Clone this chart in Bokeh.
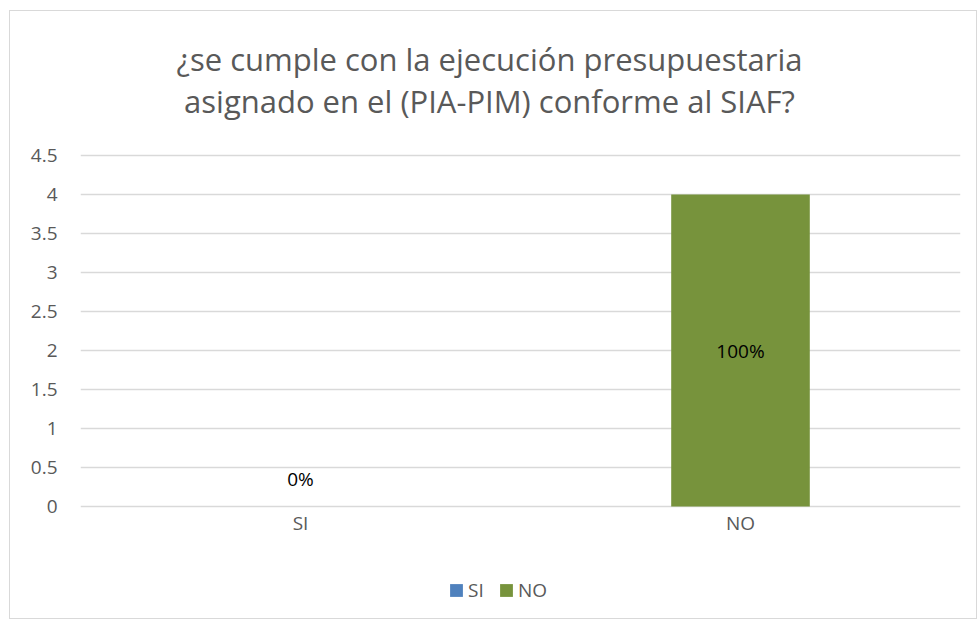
import numpy as np
from bokeh.plotting import figure
from bokeh.models import Legend, LegendItem, ColumnDataSource, FixedTicker, Range1d
from bokeh.core.properties import value
from bokeh.embed import file_html
from bokeh.resources import INLINE

# ---- data ----
categories = ["SI", "NO"]
series_names = ["SI", "NO"]
counts = [0, 4]
percent_labels = ["0%", "100%"]
colors = ["#4f81bd", "#77933c"]
title_lines = ["¿se cumple con la ejecución presupuestaria",
               "asignado en el (PIA-PIM) conforme al SIAF?"]
y_max = 4.5
y_step = 0.5

# ---- layout constants (pixels) ----
FONT = "Open Sans"
GREY = "#595959"
FRAME_H = 607          # frame spans whole chart height (titles/legend drawn inside)
AXIS_PX = 351          # pixel height of the 0..y_max value axis
ZERO_FROM_TOP = 495    # pixel distance from frame top to value 0
px_per_unit = AXIS_PX / y_max
y_end = ZERO_FROM_TOP / px_per_unit
y_start = -(FRAME_H - ZERO_FROM_TOP) / px_per_unit

p = figure(x_range=categories, y_range=Range1d(y_start, y_end),
           frame_width=880, frame_height=FRAME_H,
           output_backend="svg", toolbar_location=None,
           min_border_left=70, min_border_right=16, min_border_top=0,
           min_border_bottom=0)
p.styles = {"border": "1px solid #d9d9d9", "margin-left": "9px", "margin-top": "10px"}
p.outline_line_color = None
p.background_fill_color = "white"
p.border_fill_color = "white"
p.title = None

# bars
renderers = []
for cat, name, v, c in zip(categories, series_names, counts, colors):
    src = ColumnDataSource(dict(x=[cat], top=[v]))
    r = p.vbar(x="x", top="top", width=0.315, source=src, fill_color=c, line_color=None)
    renderers.append((name, r))

# chart title (two centred lines above the value area)
for line, off in zip(title_lines, [-97, -55]):
    s = ColumnDataSource(dict(x=[1], y=[y_max], t=[line]))
    p.text(x="x", y="y", text="t", source=s, text_align="center", text_baseline="middle",
           x_offset=-31, y_offset=off, text_font=value(FONT), text_font_size="31px",
           text_color=GREY)

# data labels
lab_src_mid = ColumnDataSource(dict(
    x=[c for c, v in zip(categories, counts) if v > 0],
    y=[v / 2 for v in counts if v > 0],
    t=[l for l, v in zip(percent_labels, counts) if v > 0]))
p.text(x="x", y="y", text="t", source=lab_src_mid, text_align="center",
       text_baseline="middle", text_font=value(FONT), text_font_size="19px",
       text_color="#000000")
lab_src_zero = ColumnDataSource(dict(
    x=[c for c, v in zip(categories, counts) if v == 0],
    y=[v for v in counts if v == 0],
    t=[l for l, v in zip(percent_labels, counts) if v == 0]))
p.text(x="x", y="y", text="t", source=lab_src_zero, text_align="center",
       text_baseline="middle", y_offset=-28, text_font=value(FONT), text_font_size="19px",
       text_color="#000000")

# category labels under the value area
cat_src = ColumnDataSource(dict(x=categories, y=[0] * len(categories), t=categories))
p.text(x="x", y="y", text="t", source=cat_src, text_align="center", text_baseline="middle",
       y_offset=16, text_font=value(FONT), text_font_size="19px", text_color=GREY)

# axes
ticks = list(np.round(np.arange(0, y_max + y_step / 2, y_step), 2))
p.yaxis.ticker = FixedTicker(ticks=ticks)
p.ygrid.ticker = FixedTicker(ticks=ticks)
p.yaxis.axis_line_color = None
p.yaxis.major_tick_line_color = None
p.yaxis.minor_tick_line_color = None
p.yaxis.major_tick_out = 0
p.yaxis.major_tick_in = 0
p.yaxis.minor_tick_out = 0
p.yaxis.major_label_text_font = FONT
p.yaxis.major_label_text_font_size = "19px"
p.yaxis.major_label_text_color = GREY
p.yaxis.major_label_standoff = 23
p.xaxis.visible = False

p.xgrid.grid_line_color = None
p.ygrid.grid_line_color = "#d9d9d9"
p.ygrid.grid_line_width = 1.5

legend = Legend(items=[LegendItem(label=n, renderers=[r]) for n, r in renderers],
                orientation="horizontal", location=(368, 15),
                label_text_font=FONT, label_text_font_size="19px", label_text_color=GREY,
                glyph_width=16, glyph_height=16, spacing=10, label_standoff=4,
                border_line_color=None, background_fill_alpha=0, padding=4, margin=0)
p.add_layout(legend, "center")

open("out.html", "w").write(file_html(p, INLINE))
